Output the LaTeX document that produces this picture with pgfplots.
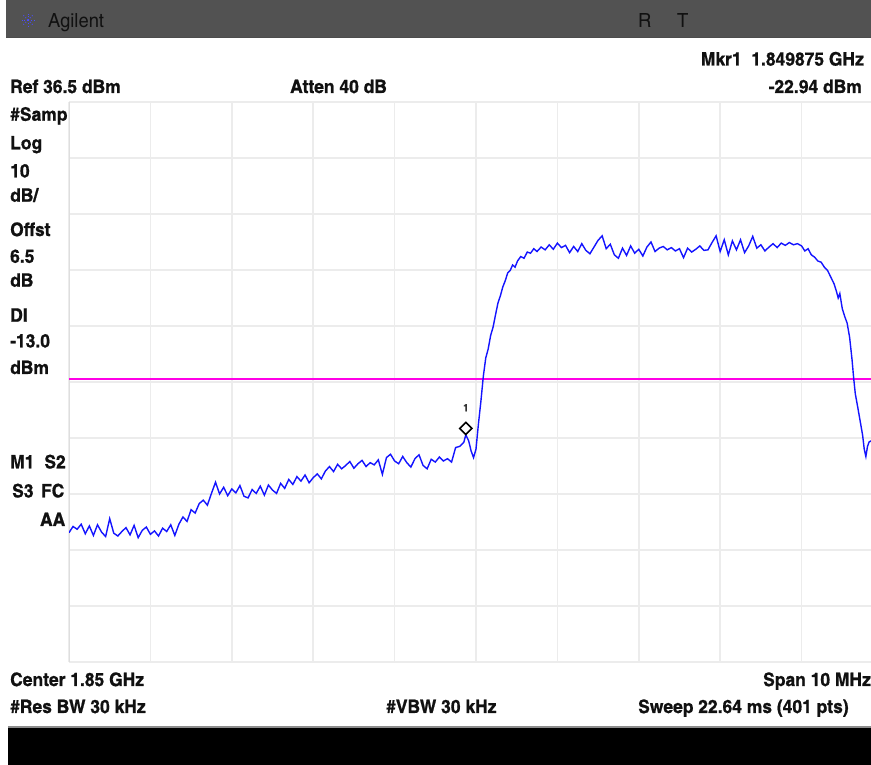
\documentclass[border=0pt]{standalone}
\usepackage{pgfplots}
\pgfplotsset{compat=1.18}
\usepackage{fontspec}
\setmainfont{texgyreheroscn}[Extension=.otf, UprightFont=*-regular, BoldFont=*-bold, FakeStretch=1.15, BoldFeatures={FakeBold=0.8}]
\definecolor{bargray}{RGB}{82,82,82}
\definecolor{gridgray}{RGB}{236,236,236}
\definecolor{bordergray}{RGB}{222,222,222}
\definecolor{traceblue}{RGB}{20,20,255}
\definecolor{dlmag}{RGB}{255,0,230}
\definecolor{txt}{RGB}{17,17,17}
\newcommand\T{\fontsize{18.5}{18.5}\selectfont\bfseries}
\newcommand\R{\fontsize{19.5}{19.5}\selectfont\mdseries}
\begin{document}
\begin{tikzpicture}
\useasboundingbox (0pt,0pt) rectangle (871pt,765pt);
\begin{scope}[x=1pt,y=1pt]
\fill[white] (0,0) rectangle (871,765);
% top bar
\fill[bargray] (6,728) rectangle (871,765);
\draw[black!70, line width=1pt] (6,727.5) -- (871,727.5);
\foreach \a in {0,45,...,315} {\draw[blue!70!white, line width=0.8pt, dotted] (28,745) -- ++(\a:8);}
\node[anchor=base west, inner sep=0, text=txt] at (48,737) {\R Agilent};
\node[anchor=base west, inner sep=0, text=txt] at (638,737) {\R R};
\node[anchor=base west, inner sep=0, text=txt] at (677,737) {\R T};
% bottom bar
\fill[black!45] (8,37) rectangle (871,39);
\fill[black] (8,0) rectangle (871,37);
% header texts
\node[anchor=base east, inner sep=0, text=txt] at (864,699.5) {\T Mkr1\ \ 1.849875 GHz};
\node[anchor=base west, inner sep=0, text=txt] at (10,672) {\T Ref 36.5 dBm};
\node[anchor=base west, inner sep=0, text=txt] at (290,672) {\T Atten 40 dB};
\node[anchor=base east, inner sep=0, text=txt] at (862,672) {\T -22.94 dBm};
% left column
\node[anchor=base west, inner sep=0, text=txt] at (10,644.3) {\T \#Samp};
\node[anchor=base west, inner sep=0, text=txt] at (10,615.7) {\T Log};
\node[anchor=base west, inner sep=0, text=txt] at (10,587.7) {\T 10};
\node[anchor=base west, inner sep=0, text=txt] at (10,563.3) {\T dB/};
\node[anchor=base west, inner sep=0, text=txt] at (10,529) {\T Offst};
\node[anchor=base west, inner sep=0, text=txt] at (10,502.3) {\T 6.5};
\node[anchor=base west, inner sep=0, text=txt] at (10,478.3) {\T dB};
\node[anchor=base west, inner sep=0, text=txt] at (10,443.3) {\T DI};
\node[anchor=base west, inner sep=0, text=txt] at (10,417.7) {\T -13.0};
\node[anchor=base west, inner sep=0, text=txt] at (10,391) {\T dBm};
\node[anchor=base west, inner sep=0, text=txt] at (10,296.7) {\T M1};
\node[anchor=base east, inner sep=0, text=txt] at (66,296.7) {\T S2};
\node[anchor=base west, inner sep=0, text=txt] at (12,267.7) {\T S3};
\node[anchor=base east, inner sep=0, text=txt] at (64.5,267.7) {\T FC};
\node[anchor=base east, inner sep=0, text=txt] at (65.5,239) {\T AA};
% footer texts
\node[anchor=base west, inner sep=0, text=txt] at (10,79) {\T Center 1.85 GHz};
\node[anchor=base east, inner sep=0, text=txt] at (871,79) {\T Span 10 MHz};
\node[anchor=base west, inner sep=0, text=txt] at (10,52) {\T \#Res BW 30 kHz};
\node[anchor=base west, inner sep=0, text=txt] at (386,52) {\T \#VBW 30 kHz};
\node[anchor=base west, inner sep=0, text=txt] at (638,52) {\T Sweep 22.64 ms (401 pts)};
\end{scope}
\begin{axis}[
  at={(69pt,103pt)}, anchor=south west, scale only axis,
  width=802pt, height=560pt,
  xmin=-5, xmax=4.853, ymin=-63.5, ymax=36.5,
  xtick={-5,-4,...,4}, ytick={-63.5,-53.5,...,36.5},
  xticklabels={}, yticklabels={},
  major tick length=0pt,
  axis line style={draw=none},
  grid=major, grid style={line width=1.6pt, gridgray},
  clip=true,
]
\draw[bordergray, line width=2.5pt] (axis cs:-5,-63.5) -- (axis cs:-5,36.5);
\addplot[dlmag, line width=1.8pt, forget plot] coordinates {(-5,-13) (4.853,-13)};
\addplot[color=traceblue, line width=1.4pt, mark=none] coordinates {
(-5.00,-40.4) (-4.95,-39.3) (-4.90,-39.8) (-4.85,-38.9) (-4.80,-40.6) (-4.75,-39.2)
(-4.70,-40.9) (-4.65,-39.0) (-4.60,-40.3) (-4.55,-41.1) (-4.50,-37.9) (-4.45,-40.5)
(-4.40,-41.0) (-4.35,-40.2) (-4.30,-39.5) (-4.25,-40.8) (-4.20,-39.1) (-4.15,-41.3)
(-4.10,-40.0) (-4.05,-39.4) (-4.00,-40.7) (-3.95,-40.1) (-3.90,-41.0) (-3.85,-39.6)
(-3.80,-40.2) (-3.75,-39.0) (-3.70,-40.9) (-3.65,-38.9) (-3.60,-37.6) (-3.55,-38.4)
(-3.50,-36.3) (-3.45,-36.9) (-3.40,-35.2) (-3.35,-34.6) (-3.30,-35.5) (-3.25,-33.4)
(-3.20,-31.4) (-3.15,-33.5) (-3.10,-32.3) (-3.05,-33.8) (-3.00,-32.6) (-2.95,-33.3)
(-2.90,-32.0) (-2.85,-33.9) (-2.80,-34.2) (-2.75,-32.7) (-2.70,-33.4) (-2.65,-32.1)
(-2.60,-33.7) (-2.55,-31.9) (-2.50,-32.8) (-2.45,-33.4) (-2.40,-31.6) (-2.35,-32.5)
(-2.30,-30.9) (-2.25,-31.8) (-2.20,-30.4) (-2.15,-31.2) (-2.10,-30.1) (-2.05,-31.5)
(-2.00,-30.6) (-1.95,-29.9) (-1.90,-30.8) (-1.85,-29.4) (-1.80,-28.6) (-1.75,-29.5)
(-1.70,-28.2) (-1.65,-29.0) (-1.60,-28.4) (-1.55,-27.7) (-1.50,-28.9) (-1.45,-28.1)
(-1.40,-27.5) (-1.35,-28.6) (-1.30,-27.9) (-1.25,-28.3) (-1.20,-27.4) (-1.15,-30.0)
(-1.10,-27.0) (-1.05,-26.4) (-1.00,-27.6) (-0.95,-28.1) (-0.90,-26.8) (-0.85,-27.9)
(-0.80,-28.7) (-0.75,-27.2) (-0.70,-26.5) (-0.65,-28.4) (-0.60,-29.0) (-0.55,-27.3)
(-0.50,-27.8) (-0.45,-26.9) (-0.40,-27.6) (-0.35,-27.2) (-0.30,-27.8) (-0.25,-25.2)
(-0.20,-25.0) (-0.15,-24.3) (-0.125,-22.94) (-0.09,-24.0) (-0.06,-25.8) (-0.03,-27.0)
(0.00,-25.5) (0.03,-21.0) (0.06,-17.0) (0.09,-12.5) (0.12,-9.2) (0.15,-7.6)
(0.18,-5.2) (0.21,-3.7) (0.24,-1.5) (0.27,0.6) (0.30,1.9) (0.33,3.5)
(0.36,4.6) (0.39,6.0) (0.42,6.4) (0.45,7.4) (0.48,7.0) (0.51,8.1)
(0.55,8.9) (0.59,8.6) (0.63,9.7) (0.67,9.5) (0.71,10.3) (0.75,9.8) (0.80,10.6)
(0.85,10.1) (0.90,11.0) (0.95,10.2) (1.00,11.3) (1.05,10.5) (1.10,10.9)
(1.15,9.6) (1.20,10.7) (1.25,9.8) (1.30,11.2) (1.35,10.0) (1.40,9.4)
(1.45,10.6) (1.50,11.8) (1.55,12.6) (1.60,10.3) (1.65,11.1) (1.70,9.2)
(1.75,8.6) (1.80,10.4) (1.85,9.1) (1.90,10.8) (1.95,9.5) (2.00,10.2)
(2.05,9.0) (2.10,10.6) (2.15,11.5) (2.20,9.8) (2.25,10.4) (2.30,10.7)
(2.35,10.1) (2.40,10.5) (2.45,9.9) (2.50,10.3) (2.55,8.7) (2.60,10.4)
(2.65,9.7) (2.70,10.2) (2.75,10.8) (2.80,10.0) (2.85,10.1) (2.90,11.4)
(2.95,12.6) (3.00,9.8) (3.05,11.9) (3.10,9.2) (3.15,11.7) (3.20,10.1)
(3.25,11.9) (3.30,9.6) (3.35,10.8) (3.40,12.5) (3.45,10.4) (3.50,11.0)
(3.55,9.9) (3.60,10.6) (3.65,11.2) (3.70,10.5) (3.75,11.3) (3.80,10.9)
(3.85,11.4) (3.90,11.0) (3.95,11.2)
(4.00,10.8) (4.04,9.9) (4.08,10.3) (4.12,9.2) (4.16,8.8) (4.20,8.1)
(4.24,7.9) (4.28,7.0) (4.32,6.4) (4.36,5.2) (4.40,4.0) (4.43,2.6)
(4.45,1.5) (4.47,2.3) (4.50,-0.4) (4.53,-1.8) (4.56,-3.0) (4.59,-5.5)
(4.62,-9.5) (4.64,-12.8) (4.66,-15.6) (4.69,-18.0) (4.72,-20.5) (4.75,-23.0)
(4.77,-25.5) (4.79,-26.8) (4.81,-25.0) (4.83,-24.2) (4.858,-24.0)
};
\addplot[only marks, mark=square*, mark size=4.3pt, mark options={rotate=45, fill=white, draw=black, line width=1.6pt}] coordinates {(-0.125,-21.8)};
\node[text=black!80, font=\fontsize{10}{10}\selectfont\bfseries] at (axis cs:-0.125,-18.1) {1};
\end{axis}
\end{tikzpicture}
\end{document}
